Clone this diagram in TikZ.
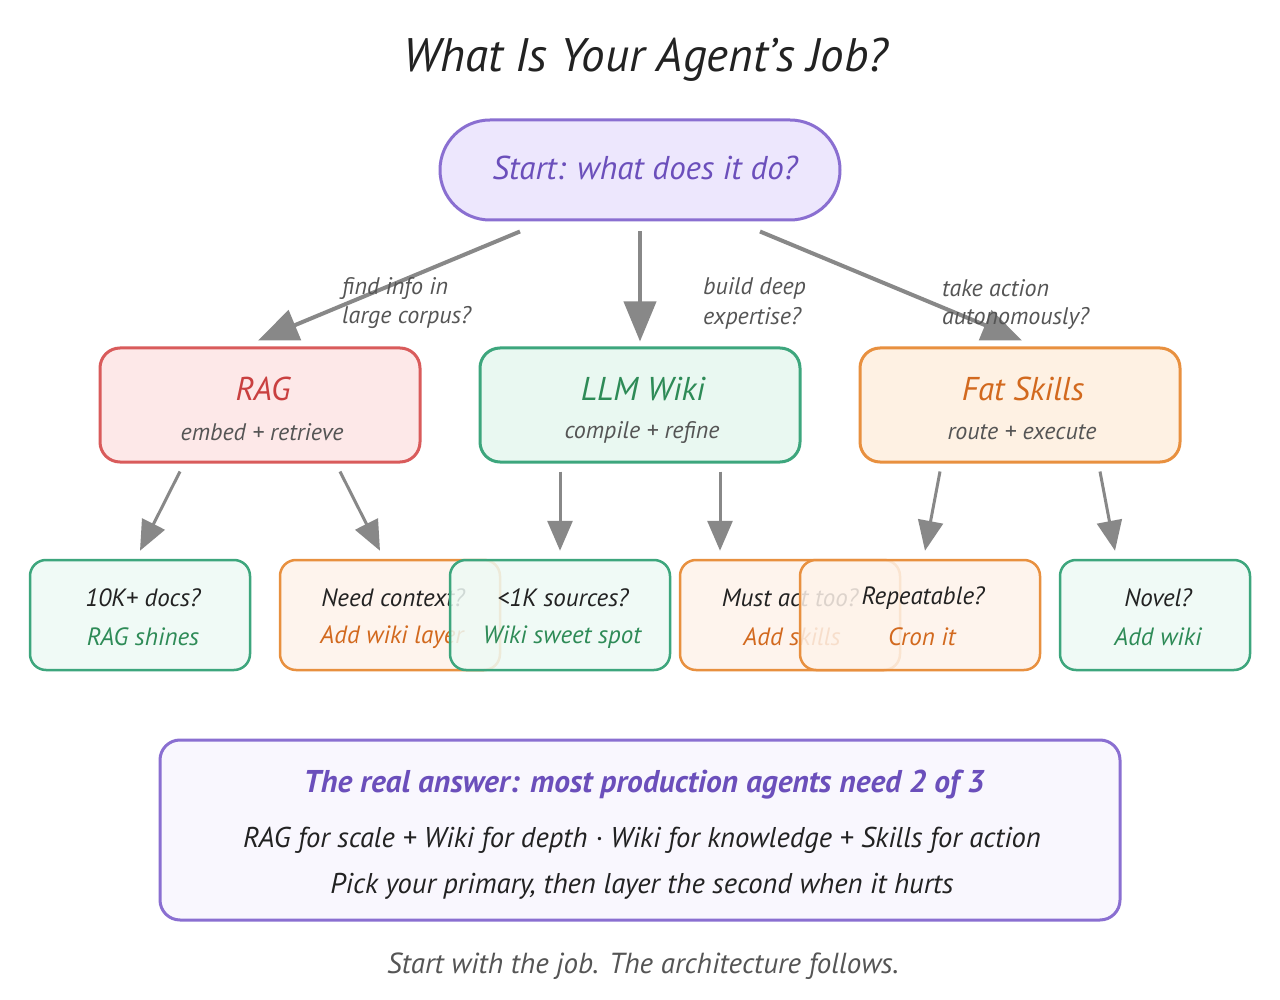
\documentclass[tikz,border=0pt]{standalone}
\usepackage{fontspec}
\setmainfont{PT Sans}
\usetikzlibrary{arrows.meta}
\definecolor{purS}{HTML}{8A6FD1}
\definecolor{purF}{HTML}{EDE7FD}
\definecolor{purT}{HTML}{6B4FBB}
\definecolor{botF}{HTML}{F9F7FE}
\definecolor{redS}{HTML}{D95B5B}
\definecolor{redF}{HTML}{FDE8E8}
\definecolor{redT}{HTML}{C94040}
\definecolor{grnS}{HTML}{3DA67D}
\definecolor{grnF}{HTML}{E9F8F1}
\definecolor{grnL}{HTML}{EEFAF5}
\definecolor{grnT}{HTML}{2E8B57}
\definecolor{orgS}{HTML}{E8903F}
\definecolor{orgF}{HTML}{FEF1E3}
\definecolor{orgL}{HTML}{FEF3EA}
\definecolor{orgT}{HTML}{D2691E}
\definecolor{arr}{HTML}{888888}
\definecolor{lbl}{HTML}{555555}
\definecolor{ink}{HTML}{222222}
\newcommand{\fsz}[1]{\fontsize{#1}{#1}\selectfont\itshape}
\tikzset{
  box/.style={draw, line width=3pt, rounded corners=20pt, inner sep=0pt},
  leafbox/.style={draw, line width=2.5pt, rounded corners=16pt, inner sep=0pt, minimum height=110pt, fill opacity=0.85},
  conn/.style={draw=arr, line width=4pt, -{Triangle[length=40pt,width=32pt]}},
  sconn/.style={draw=arr, line width=3pt, -{Triangle[length=30pt,width=25pt]}},
  txt/.style={inner sep=0pt},
  elbl/.style={inner sep=0pt, anchor=west, text=lbl, font=\fsz{24}},
}
\begin{document}
\begin{tikzpicture}[x=1pt,y=-1pt]
\path[fill=white] (0,0) rectangle (1280,1000);
\useasboundingbox (0,0) rectangle (1280,1000);

% title
\node[txt, text=ink, font=\fsz{47}] (title) at (646,60) {What Is Your Agent's Job?};

% start pill
\node[box, fill=purF, draw=purS, rounded corners=50pt, minimum width=400pt, minimum height=100pt] (start) at (640,170) {};
\node[txt, text=purT, font=\fsz{33}] (starttxt) at (645,168) {Start: what does it do?};

% level 2 boxes
\node[box, fill=redF, draw=redS, minimum width=320pt, minimum height=114pt] (rag) at (260,405) {};
\node[txt, text=redT, font=\fsz{33}] (ragt) at (263,389) {RAG};
\node[txt, text=lbl, font=\fsz{24}] (rags) at (262,432) {embed + retrieve};

\node[box, fill=grnF, draw=grnS, minimum width=320pt, minimum height=114pt] (wiki) at (640,405) {};
\node[txt, text=grnT, font=\fsz{33}] (wikit) at (643,389) {LLM Wiki};
\node[txt, text=lbl, font=\fsz{24}] (wikis) at (642,432) {compile + refine};

\node[box, fill=orgF, draw=orgS, minimum width=320pt, minimum height=114pt] (fat) at (1020,405) {};
\node[txt, text=orgT, font=\fsz{33}] (fatt) at (1023,389) {Fat Skills};
\node[txt, text=lbl, font=\fsz{24}] (fats) at (1022,432) {route + execute};

% top connectors
\draw[conn] ([xshift=-120pt,yshift=-10pt]start.south) -- ([xshift=-2pt,yshift=6pt]rag.north);
\draw[conn] ([yshift=-10pt]start.south) -- ([yshift=5pt]wiki.north);
\draw[conn] ([xshift=120pt,yshift=-10pt]start.south) -- ([xshift=2pt,yshift=6pt]fat.north);

\node[elbl] (l1a) at (342,288) {find info in};
\node[elbl] (l1b) at (342,318) {large corpus?};
\node[elbl] (l2a) at (703,288) {build deep};
\node[elbl] (l2b) at (703,318) {expertise?};
\node[elbl] (l3a) at (942,288) {take action};
\node[elbl] (l3b) at (942,318) {autonomously?};

% leaves
\node[leafbox, fill=grnL, draw=grnS, minimum width=220pt] (k10) at (140,615) {};
\node[txt, text=ink, font=\fsz{25}] at (143,598) {10K+ docs?};
\node[txt, text=grnT, font=\fsz{25}] at (143,637) {RAG shines};

\node[leafbox, fill=orgL, draw=orgS, minimum width=220pt] (ctx) at (390,615) {};
\node[txt, text=ink, font=\fsz{25}] at (393,598) {Need context?};
\node[txt, text=orgT, font=\fsz{25}] at (392,637) {Add wiki layer};

\node[leafbox, fill=grnL, draw=grnS, minimum width=220pt] (k1) at (560,615) {};
\node[txt, text=ink, font=\fsz{25}] at (563,598) {<1K sources?};
\node[txt, text=grnT, font=\fsz{25}] at (562,637) {Wiki sweet spot};

\node[leafbox, fill=orgL, draw=orgS, minimum width=220pt] (act) at (790,615) {};
\node[txt, text=ink, font=\fsz{25}] at (790,598) {Must act too?};
\node[txt, text=orgT, font=\fsz{25}] at (792,637) {Add skills};

\node[leafbox, fill=orgL, draw=orgS, minimum width=240pt] (rep) at (920,615) {};
\node[txt, text=ink, font=\fsz{25}] at (923,598) {Repeatable?};
\node[txt, text=orgT, font=\fsz{25}] at (922,637) {Cron it};

\node[leafbox, fill=grnL, draw=grnS, minimum width=190pt] (nov) at (1155,615) {};
\node[txt, text=ink, font=\fsz{25}] at (1158,598) {Novel?};
\node[txt, text=grnT, font=\fsz{25}] at (1158,637) {Add wiki};

% level 2 -> leaf connectors
\draw[sconn] ([xshift=-80pt,yshift=-8pt]rag.south) -- ([yshift=8pt]k10.north);
\draw[sconn] ([xshift=80pt,yshift=-8pt]rag.south) -- ([xshift=-10pt,yshift=8pt]ctx.north);
\draw[sconn] ([xshift=-80pt,yshift=-8pt]wiki.south) -- ([yshift=8pt]k1.north);
\draw[sconn] ([xshift=80pt,yshift=-8pt]wiki.south) -- ([xshift=-70pt,yshift=8pt]act.north);
\draw[sconn] ([xshift=-80pt,yshift=-8pt]fat.south) -- ([xshift=5pt,yshift=8pt]rep.north);
\draw[sconn] ([xshift=80pt,yshift=-8pt]fat.south) -- ([xshift=-40pt,yshift=8pt]nov.north);

% bottom box
\node[box, fill=botF, draw=purS, minimum width=960pt, minimum height=180pt] (sum) at (640,830) {};
\node[txt, text=purT, font=\fsz{31.5}\bfseries] (sum1) at (644,785) {The real answer: most production agents need 2 of 3};
\node[txt, text=ink, font=\fsz{28.6}] (sum2) at (642,840) {RAG for scale + Wiki for depth · Wiki for knowledge + Skills for action};
\node[txt, text=ink, font=\fsz{28.6}] (sum3) at (642,886) {Pick your primary, then layer the second when it hurts};

% footer
\node[txt, text=lbl, font=\fsz{29}] (foot) at (643,966) {Start with the job. The architecture follows.};
\end{tikzpicture}
\end{document}
